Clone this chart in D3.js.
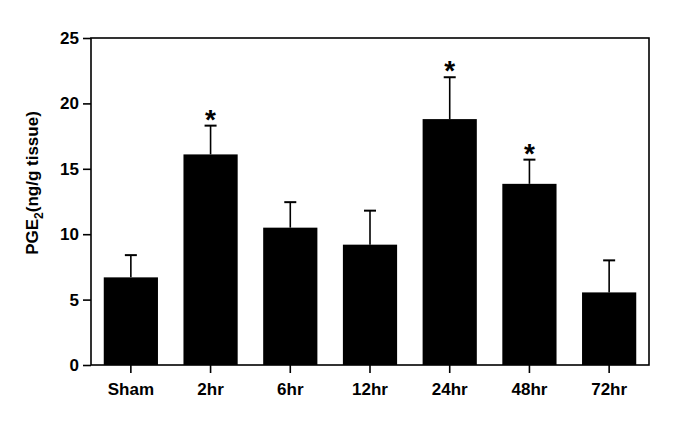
<!DOCTYPE html>
<html>
<head>
<meta charset="utf-8">
<script src="https://cdn.jsdelivr.net/npm/d3@7"></script>
<style>
    body { margin: 0; background: #fff; }
    text { font-family: "Liberation Sans", Arial, sans-serif; font-weight: bold; }
</style>
</head>
<body>
<div id="chart"></div>
<script>
// data
var groups = ["Sham", "2hr", "6hr", "12hr", "24hr", "48hr", "72hr"];
var means = [6.7, 16.1, 10.5, 9.2, 18.8, 13.85, 5.55];
var sems = [1.7, 2.2, 1.95, 2.6, 3.2, 1.85, 2.45];
var significant = [false, true, false, false, true, true, false];
var yTicks = [0, 5, 10, 15, 20, 25];

var margin = {top: 38, right: 26, bottom: 60, left: 91},
    width = 675 - margin.left - margin.right,
    height = 425 - margin.top - margin.bottom;

var svg = d3.select("#chart").append("svg")
    .attr("width", 675)
    .attr("height", 425)
    .append("g")
    .attr("transform", "translate(" + margin.left + "," + margin.top + ")");

var x = d3.scaleBand()
    .domain(groups)
    .range([0, width])
    .paddingInner(0.32)
    .paddingOuter(0.16);

var y = d3.scaleLinear()
    .domain([0, 25])
    .range([height, 0]);

// frame
svg.append("rect")
    .attr("width", width)
    .attr("height", height)
    .style("fill", "none")
    .style("stroke", "#000")
    .style("stroke-width", 1.6);

// bars
svg.selectAll(".bar")
    .data(groups)
    .enter().append("rect")
    .attr("class", "bar")
    .attr("x", function (d) { return x(d); })
    .attr("y", function (d, i) { return y(means[i]); })
    .attr("width", x.bandwidth())
    .attr("height", function (d, i) { return height - y(means[i]); })
    .style("fill", "#000");

// error bars (upper only)
var err = svg.selectAll(".err")
    .data(groups)
    .enter().append("g")
    .attr("class", "err")
    .attr("transform", function (d) {
        return "translate(" + (x(d) + x.bandwidth() / 2) + ",0)";
    });

err.append("line")
    .attr("x1", 0).attr("x2", 0)
    .attr("y1", function (d, i) { return y(means[i]); })
    .attr("y2", function (d, i) { return y(means[i] + sems[i]); })
    .style("stroke", "#000")
    .style("stroke-width", 1.6);

err.append("line")
    .attr("x1", -6).attr("x2", 6)
    .attr("y1", function (d, i) { return y(means[i] + sems[i]); })
    .attr("y2", function (d, i) { return y(means[i] + sems[i]); })
    .style("stroke", "#000")
    .style("stroke-width", 2);

// asterisks
err.filter(function (d, i) { return significant[i]; })
    .append("text")
    .attr("text-anchor", "middle")
    .attr("y", function (d) {
        var i = groups.indexOf(d);
        return y(means[i] + sems[i]) + 3;
    })
    .style("font-size", "28px")
    .text("*");

// y axis
var yAxis = svg.append("g")
    .call(d3.axisLeft(y).tickValues(yTicks).tickSize(8).tickPadding(4).tickSizeOuter(0));
yAxis.select(".domain").remove();
yAxis.selectAll("line").style("stroke-width", 1.6);
yAxis.selectAll("text").style("font-size", "17px").attr("fill", "#000");

// x axis
var xAxis = svg.append("g")
    .attr("transform", "translate(0," + height + ")")
    .call(d3.axisBottom(x).tickSize(8).tickPadding(10).tickSizeOuter(0));
xAxis.select(".domain").remove();
xAxis.selectAll("line").style("stroke-width", 1.6);
xAxis.selectAll("text").style("font-size", "17px").attr("fill", "#000");

// y label
var ylab = svg.append("text")
    .attr("transform", "translate(" + (-53) + "," + (183 - margin.top) + ") rotate(-90)")
    .attr("text-anchor", "middle")
    .style("font-size", "17px");
ylab.append("tspan").text("PGE");
ylab.append("tspan").attr("dy", 5).style("font-size", "12px").text("2");
ylab.append("tspan").attr("dy", -5).text("(ng/g tissue)");
</script>
</body>
</html>
